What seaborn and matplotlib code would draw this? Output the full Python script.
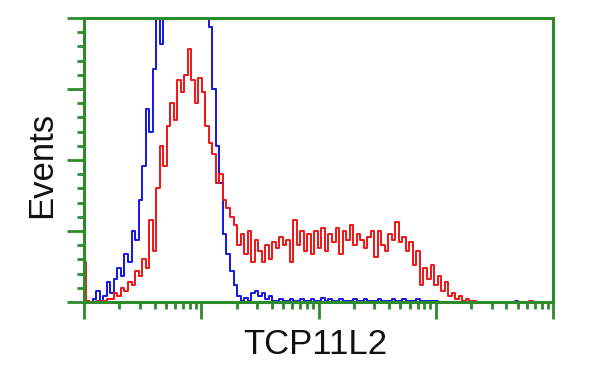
import numpy as np
import pandas as pd
import matplotlib
matplotlib.use("Agg")
import matplotlib.pyplot as plt
import seaborn as sns
from matplotlib.ticker import LogLocator, MultipleLocator, NullFormatter

# ---- data (histogram counts per log-spaced channel, 0.03 decade apart) ----
LOG_STEP = 0.03
red_counts = [14, 0.5, 0, 0, 0.5, 0, 0.5, 1, 1, 3,
              2, 5, 4, 7, 6, 11, 9, 15, 12, 29,
              18, 40, 55, 48, 62, 70, 64, 78, 74, 80,
              89, 78, 70, 79, 74, 62, 56, 52, 42, 45,
              36, 33, 30, 27, 20, 24, 17, 25, 14, 22,
              18, 14, 20, 15, 21, 19, 23, 20, 22, 14,
              29, 20, 25, 18, 24, 17, 25, 19, 26, 18,
              24, 21, 26, 17, 25, 22, 27, 20, 24, 22,
              19, 23, 25, 16, 25, 20, 18, 24, 22, 28,
              21, 23, 18, 21, 13, 18, 6, 12, 8, 13,
              6, 9, 4, 7, 2, 3, 1, 2, 0.5, 1,
              0.5, 0.5, 0, 0, 0, 0, 0, 0, 0, 0,
              0, 0, 0, 0, 0, 0, 0, 0.5, 0, 0,
              0, 0, 0, 0]
blue_counts = [1.5, 0.5, 0, 1, 4, 0.5, 2, 7, 3, 8,
               12, 9, 17, 14, 25, 22, 36, 48, 68, 60,
               82, 130, 91, 140, 160, 175, 190, 200, 210, 205,
               195, 185, 175, 160, 150, 130, 97, 75, 55, 42,
               24, 17, 11, 6, 2, 0.5, 1.5, 0.5, 3, 4,
               2, 3, 1, 2, 0.5, 0.5, 1, 0.3, 0.5, 1,
               0.3, 0.5, 1, 0.5, 0.3, 1, 0.5, 0.3, 1.5, 0.5,
               1, 0.3, 0.5, 1, 0.5, 0.3, 0.5, 1, 0.3, 0.5,
               1, 0.5, 0.3, 0.5, 1, 0.3, 0.5, 0.5, 1, 0.3,
               0.5, 1, 0.3, 0.5, 0.5, 1, 0.3, 0.5, 0.3, 0.5,
               0.3, 0, 0, 0, 0, 0, 0, 0, 0, 0,
               0, 0, 0, 0, 0, 0, 0, 0, 0, 0,
               0, 0, 0, 0.5, 0, 0, 0, 0, 0, 0,
               0, 0, 0, 0]
series_names = ["control", "TCP11L2"]
x_label = "TCP11L2"
y_label = "Events"

n = len(red_counts)
fluor = 10 ** (np.arange(n) * LOG_STEP)
df = pd.DataFrame({
    "fluorescence": np.concatenate([fluor, fluor]),
    "events": blue_counts + red_counts,
    "sample": [series_names[0]] * n + [series_names[1]] * n,
})

sns.set_theme(style="white")
plt.rcParams["font.family"] = ["Liberation Sans", "DejaVu Sans"]

GREEN = "#2e8b2a"
fig = plt.figure(figsize=(6, 3.75), dpi=100)
ax = fig.add_axes([84 / 600, 1 - 302 / 375, (553 - 84) / 600, (302 - 18) / 375])

sns.lineplot(data=df, x="fluorescence", y="events", hue="sample",
             palette={"control": "#1414e6", "TCP11L2": "#f01414"},
             hue_order=series_names, drawstyle="steps-mid", estimator=None,
             legend=False, ax=ax, linewidth=1.4)

ax.set_xscale("log")
ax.set_xlim(1, 1e4)
ax.set_ylim(0, 100)
ax.xaxis.set_major_locator(LogLocator(base=10, numticks=10))
ax.xaxis.set_minor_locator(LogLocator(base=10, subs=np.arange(2, 10), numticks=50))
ax.xaxis.set_minor_formatter(NullFormatter())
ax.yaxis.set_major_locator(MultipleLocator(25))
ax.yaxis.set_minor_locator(MultipleLocator(5))
ax.tick_params(which="both", bottom=True, left=True, top=False, right=False,
               labelbottom=False, labelleft=False, direction="out",
               color=GREEN, width=2)
ax.tick_params(which="major", length=12)
ax.tick_params(which="minor", length=5)
ax.set_xlabel("")
ax.set_ylabel("")
for sp in ax.spines.values():
    sp.set_color(GREEN)
    sp.set_linewidth(2.2)
    sp.set_visible(True)

fig.text(42 / 600, 1 - 165 / 375, y_label, rotation=90, ha="center", va="center",
         fontsize=25, color="#111111")
fig.text(315 / 600, 1 - 345 / 375, x_label, ha="center", va="center",
         fontsize=25, color="#111111")

fig.savefig("out.png", dpi=100, facecolor="white")
